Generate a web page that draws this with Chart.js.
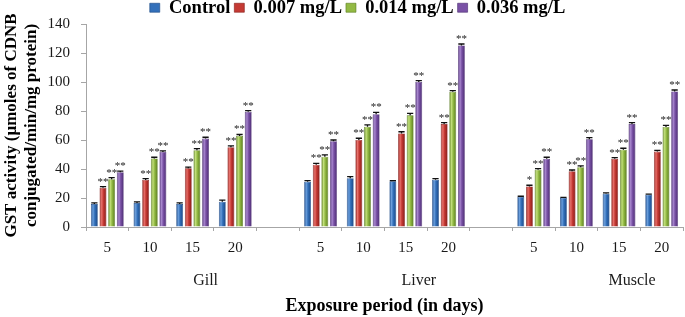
<!DOCTYPE html>
<html><head><meta charset="utf-8">
<script src="https://cdn.jsdelivr.net/npm/chart.js@4.4.1/dist/chart.umd.min.js"></script>
<style>html,body{margin:0;padding:0;background:#fff;}#wrap{width:685px;height:317px;position:relative;}</style>
</head><body><div id="wrap"><canvas id="c"></canvas></div>
<script>
// ---- data (order: Gill 5,10,15,20 | Liver 5,10,15,20 | Muscle 5,10,15,20)
const days = ['5', '10', '15', '20'];
const tissues = ['Gill', 'Liver', 'Muscle'];
const seriesNames = ['Control', '0.007 mg/L', '0.014 mg/L', '0.036 mg/L'];

const control = [15.8, 16.5, 15.8, 17.5, 31.2, 33.7, 31.5, 32.6, 20.8, 20.0, 23.0, 22.3];
const c007    = [27.0, 32.5, 40.5, 55.0, 43.0, 60.0, 64.5, 71.0, 28.0, 38.5, 47.0, 52.0];
const c014    = [33.0, 47.3, 53.0, 62.8, 48.5, 69.2, 77.0, 93.2, 39.5, 41.2, 53.3, 69.0];
const c036    = [37.8, 51.8, 61.0, 79.4, 59.2, 77.8, 100.0, 125.2, 47.0, 60.5, 71.0, 93.5];

const errControl = [0.8, 0.8, 0.8, 1.0, 0.8, 1.0, 0.5, 0.8, 0.4, 0.4, 0.6, 0.4];
const err007     = [0.8, 0.8, 0.8, 0.9, 0.9, 1.2, 1.2, 1.0, 0.8, 0.8, 0.8, 0.8];
const err014     = [1.0, 0.8, 1.0, 1.0, 1.2, 1.2, 1.4, 0.8, 0.7, 0.9, 1.0, 1.1];
const err036     = [0.8, 0.7, 0.9, 0.8, 0.8, 1.2, 0.9, 1.0, 1.1, 1.1, 1.0, 1.0];

const sigControl = ['', '', '', '', '', '', '', '', '', '', '', ''];
const sig007     = ['**', '**', '**', '**', '**', '**', '**', '**', '*', '**', '**', '**'];
const sig014     = ['**', '**', '**', '**', '**', '**', '**', '**', '**', '**', '**', '**'];
const sig036     = ['**', '**', '**', '**', '**', '**', '**', '**', '**', '**', '**', '**'];

const yTicks = { min: 0, max: 140, step: 20 };

// ---- styling
const SERIF = "'Liberation Serif','Times New Roman',serif";
const palette = [
  { base: '#3370ba', dark: '#1a4683', light: '#6c9fdc' },
  { base: '#c53a34', dark: '#841b18', light: '#e7716b' },
  { base: '#93ba44', dark: '#587a1e', light: '#c2df7c' },
  { base: '#7a52a6', dark: '#4a2b70', light: '#a888ce' }
];

// insert an empty slot between tissue groups
function expand(arr, blank) {
  const out = [];
  tissues.forEach((t, ti) => {
    for (let d = 0; d < days.length; d++) out.push(arr[ti * days.length + d]);
    if (ti < tissues.length - 1) out.push(blank);
  });
  return out;
}
const categories = expand(days.concat(days, days), '');
// group (tissue) labels on the second category row, under the middle of each group
const groupRow = categories.map(() => '');
tissues.forEach((t, ti) => { groupRow[ti * (days.length + 1) + 2] = t; });

function barFill(p) {
  return (c) => {
    const el = c.element;
    if (!el || !isFinite(el.x) || !el.width) return p.base;
    const g = c.chart.ctx.createLinearGradient(el.x - el.width / 2, 0, el.x + el.width / 2, 0);
    g.addColorStop(0, p.dark);
    g.addColorStop(0.3, p.light);
    g.addColorStop(0.55, p.base);
    g.addColorStop(1, p.dark);
    return g;
  };
}

const values = [control, c007, c014, c036];
const errs = [errControl, err007, err014, err036];
const sigs = [sigControl, sig007, sig014, sig036];

const datasets = seriesNames.map((name, i) => ({
  label: name,
  data: expand(values[i], null),
  errors: expand(errs[i], 0),
  sig: expand(sigs[i], ''),
  backgroundColor: barFill(palette[i]),
  borderColor: palette[i].dark,
  borderWidth: 0.6,
  categoryPercentage: 0.81,
  barPercentage: 0.8
}));

const legendShift = {
  id: 'legendShift',
  afterLayout(chart) {
    const l = chart.legend; if (!l) return;
    l.left += 16; l.right += 16; l.top += 3; l.bottom += 3;
  }
};

const errPlugin = {
  id: 'errs',
  afterDatasetsDraw(chart) {
    const ctx = chart.ctx, ys = chart.scales.y;
    chart.data.datasets.forEach((ds, di) => {
      const meta = chart.getDatasetMeta(di);
      meta.data.forEach((el, i) => {
        const v = ds.data[i];
        if (v == null) return;
        const e = ds.errors[i] || 0;
        const yv = ys.getPixelForValue(v);
        const yt = ys.getPixelForValue(v + e);
        const hw = el.width * 0.45;
        ctx.save();
        ctx.strokeStyle = '#111';
        ctx.lineWidth = 1.3;
        ctx.beginPath();
        ctx.moveTo(el.x, yv); ctx.lineTo(el.x, yt);
        ctx.moveTo(el.x - hw, yt); ctx.lineTo(el.x + hw, yt);
        ctx.stroke();
        const s = ds.sig[i];
        if (s) {
          ctx.fillStyle = '#222';
          ctx.font = '11px ' + SERIF;
          ctx.textAlign = 'center';
          ctx.textBaseline = 'alphabetic';
          ctx.fillText(s, el.x, yt - 2);
        }
        ctx.restore();
      });
    });
  }
};

const chart = new Chart(document.getElementById('c'), {
  type: 'bar',
  data: { labels: categories, datasets },
  plugins: [legendShift, errPlugin],
  options: {
    responsive: true,
    maintainAspectRatio: false,
    animation: false,
    layout: { padding: { top: -8.5, left: 0, right: 2, bottom: 0 } },
    plugins: {
      tooltip: { enabled: false },
      legend: {
        position: 'top',
        labels: {
          boxWidth: 10, boxHeight: 9, padding: 4, color: '#000',
          font: { family: SERIF, size: 18.5, weight: 'bold' },
          generateLabels(ch) {
            const items = Chart.defaults.plugins.legend.labels.generateLabels(ch);
            items.forEach((it, i) => { it.fillStyle = palette[i].base; it.strokeStyle = palette[i].dark; it.lineWidth = 0.6; });
            return items;
          }
        }
      }
    },
    scales: {
      x: {
        type: 'category', offset: true, weight: 0,
        grid: { offset: true, drawOnChartArea: false, drawTicks: true, tickLength: 4, color: '#a6a6a6' },
        border: { color: '#a6a6a6' },
        ticks: { font: { family: SERIF, size: 15 }, color: '#1a1a1a', padding: 8, autoSkip: false, maxRotation: 0 },
        afterFit(s) { s.height = 34; }
      },
      x2: {
        type: 'category', labels: groupRow, position: 'bottom', weight: 1, offset: true,
        grid: { display: false, drawTicks: false, tickLength: 0 }, border: { display: false },
        ticks: { font: { family: SERIF, size: 16 }, color: '#1a1a1a', padding: 10, maxRotation: 0,
                 autoSkip: false, labelOffset: 13 },
        title: { display: true, text: 'Exposure period (in days)', color: '#000',
                 font: { family: SERIF, size: 18, weight: 'bold' }, padding: { top: 0, bottom: 0 } },
        afterFit(s) { s.height = 56; }
      },
      y: {
        min: yTicks.min, max: yTicks.max,
        ticks: { stepSize: yTicks.step, font: { family: SERIF, size: 15 }, color: '#1a1a1a', padding: 11 },
        grid: { drawOnChartArea: false, drawTicks: true, tickLength: 5, color: '#a6a6a6' },
        border: { color: '#a6a6a6' },
        title: { display: true, text: ['GST activity (µmoles of CDNB', 'conjugated/min/mg protein)'], color: '#000',
                 font: { family: SERIF, size: 17, weight: 'bold' }, padding: { top: 1, bottom: 0 } },
        afterFit(s) { s.width = 86; }
      }
    }
  }
});
chart.update('none');
</script></body></html>
